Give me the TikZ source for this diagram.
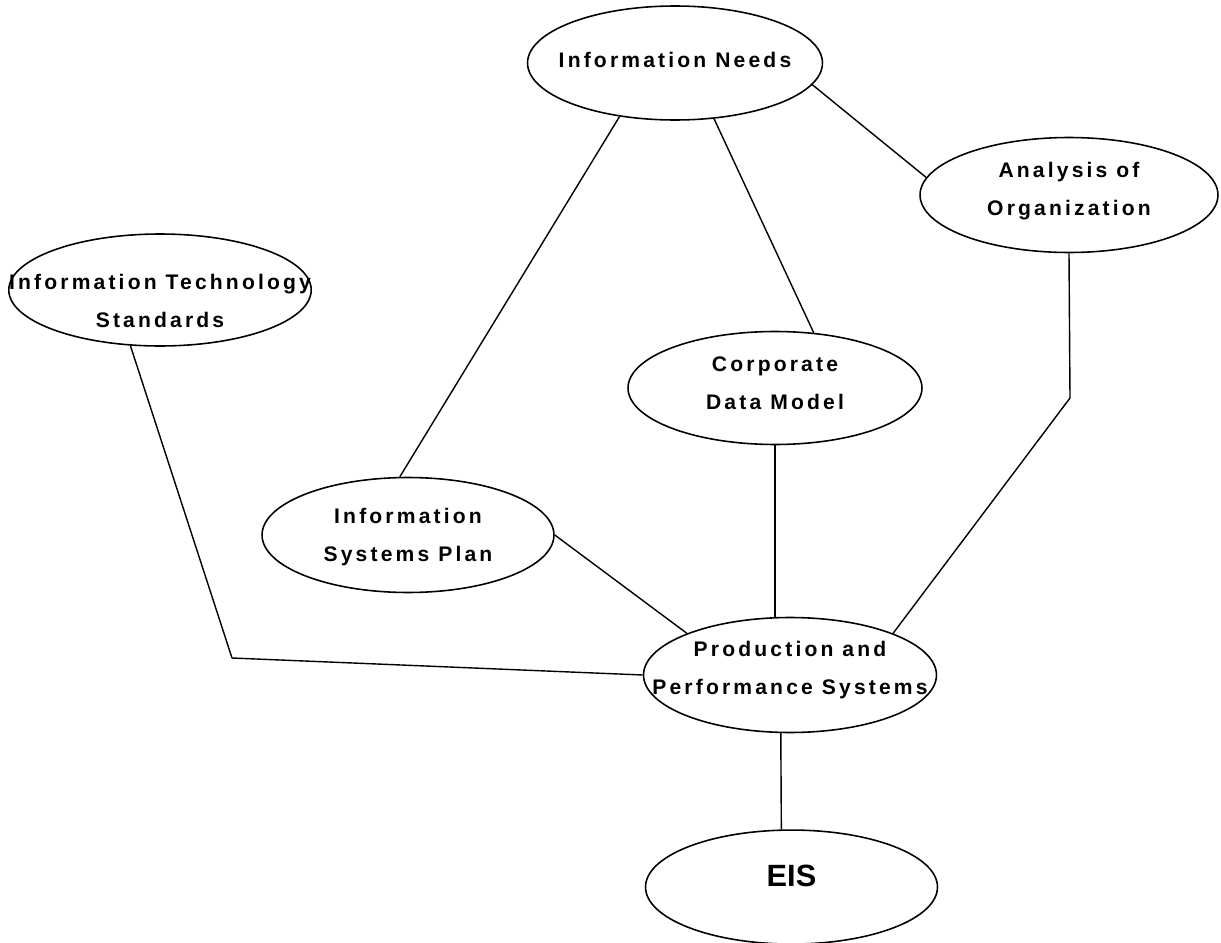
\documentclass[tikz,border=0pt]{standalone}
\usepackage{fontspec}
\setmainfont{Liberation Sans}
\newfontfamily\trackedfont{Liberation Sans}[LetterSpace=15]
\usetikzlibrary{shapes.geometric, positioning}
% text that does not widen the ellipse; optional raise of the lines
\newcommand{\midtext}[2][0pt]{\raisebox{#1}[\height][\depth]{\makebox[0pt]{\begin{tabular}{@{}c@{}}#2\end{tabular}}}}
\tikzset{
  bubble/.style={
    draw, ellipse, minimum width=5.9cm, minimum height=2.28cm,
    inner sep=0pt, line width=0.9pt,
    font=\trackedfont\bfseries\fontsize{12}{21.6}\selectfont
  },
  link/.style={
    line width=0.8pt, line join=round
  },
}

\begin{document}
\begin{tikzpicture}[x=0.02cm, y=-0.02cm]
  \useasboundingbox (0,0) rectangle (1221,943);

  %%% Top: needs and organization %%%
  \node[bubble] (needs) at (675,63) {\midtext[0.06cm]{Information Needs}};
  \node[bubble, minimum width=5.96cm, minimum height=2.3cm] (org) at (1069,195)
    {\midtext[0.12cm]{Analysis of\\Organization}};

  %%% Middle row %%%
  \node[bubble, minimum width=6.05cm, minimum height=2.24cm] (its) at (160,290)
    {\midtext[-0.22cm]{Information Technology\\Standards}};
  \node[bubble, minimum width=5.88cm, minimum height=2.26cm] (cdm) at (775,388)
    {\midtext[0.11cm]{Corporate\\Data Model}};
  \node[bubble, minimum width=5.84cm, minimum height=2.3cm] (isp) at (408,535)
    {\midtext{Information\\Systems Plan}};

  %%% Bottom: production and EIS %%%
  \node[bubble, minimum width=5.86cm, minimum height=2.3cm] (prod) at (790,675)
    {\midtext[0.15cm]{Production and\\Performance Systems}};
  \node[bubble, font=\bfseries\fontsize{17.5}{21}\selectfont,
        minimum width=5.84cm, minimum height=2.28cm,
        below=1.92cm of prod, xshift=0.03cm] (eis)
    {\midtext[0.16cm]{EIS}};

  %%% Bends %%%
  \coordinate (itsbend) at (232,658);
  \coordinate (orgbend) at (1070,398);

  %%% Links %%%
  \draw[link] (needs.-136) -- (isp.98);
  \draw[link] (needs.-55) -- (cdm.55);
  \draw[link] (needs.-9) -- (org.173);
  \draw[link] (org.south) -- (orgbend) -- (prod.22);
  \draw[link] (its.-118) -- (itsbend) -- (prod.west);
  \draw[link] (isp.east) -- (prod.158);
  \draw[link] (cdm.south) -- (cdm.south |- prod.north);
  \draw[link] (prod.-99) -- (eis.100);

\end{tikzpicture}
\end{document}
